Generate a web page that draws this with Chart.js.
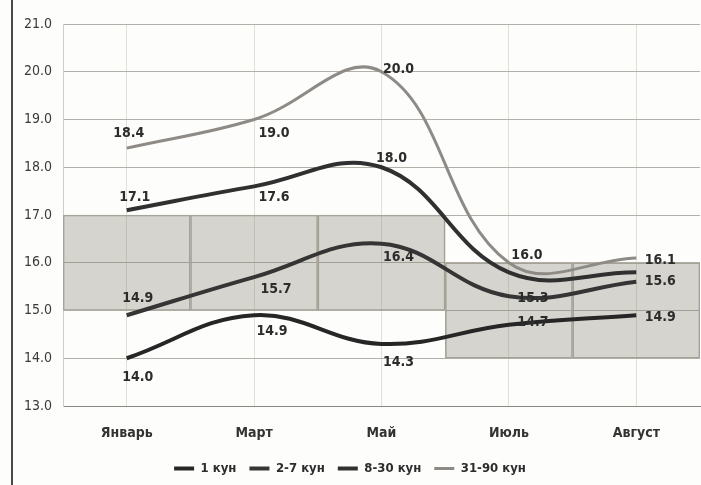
<!DOCTYPE html>
<html>
<head>
<meta charset="utf-8">
<script src="https://cdn.jsdelivr.net/npm/chart.js@4.4.1/dist/chart.umd.min.js"></script>
<style>
    html, body { margin: 0; padding: 0; background: #fdfdfc; }
    #wrap { position: relative; width: 701px; height: 485px; }
    #frame { position: absolute; left: 11px; top: 0; width: 2px; height: 485px; background: #4a4a4a; }
    canvas { position: absolute; left: 0; top: 0; }
</style>
</head>
<body>
<div id="wrap">
    <div id="frame"></div>
    <canvas id="chart" width="701" height="485"></canvas>
</div>
<script>
const MONTHS = ['Январь', 'Март', 'Май', 'Июль', 'Август'];
const SERIES_NAMES = ['1 кун', '2-7 кун', '8-30 кун', '31-90 кун'];

const DAY_1 = [14.0, 14.9, 14.3, 14.7, 14.9];
const DAYS_2_7 = [14.9, 15.7, 16.4, 15.3, 15.6];
const DAYS_8_30 = [17.1, 17.6, 18.0, 15.8, 15.8];
const DAYS_31_90 = [18.4, 19.0, 20.0, 16.0, 16.1];

// shaded band behind the lines (low / high per month)
const BAND_LOW = [15, 15, 15, 14, 14];
const BAND_HIGH = [17, 17, 17, 16, 16];

const Y_TICKS = [13, 14, 15, 16, 17, 18, 19, 20, 21];

// where each value label sits relative to its point, null = not shown
const LABEL_OFFSETS = [
    [[11, 19], [18, 16], [17, 18], [24, -2], [24, 2]],
    [[11, -17], [22, 12], [17, 14], [24, 2], [24, 0]],
    [[8, -13], [20, 11], [10, -9], null, null],
    [[2, -15], [20, 14], [17, -2], [18, -7], [24, 2]]
];

const FONT = '"Liberation Sans Narrow", "Arial Narrow", "DejaVu Sans Condensed", sans-serif';
const LINE_COLORS = ['#262626', '#353535', '#303030', '#8e8b86'];
const LINE_WIDTHS = [4, 4, 4, 3];

const valueLabels = {
    id: 'valueLabels',
    afterDatasetsDraw(chart) {
        const ctx = chart.ctx;
        ctx.save();
        ctx.font = 'bold 14px ' + FONT;
        ctx.fillStyle = '#2c2c2c';
        ctx.textAlign = 'center';
        ctx.textBaseline = 'middle';
        chart.data.datasets.forEach((ds, i) => {
            if (!ds.labelOffsets) return;
            const meta = chart.getDatasetMeta(i);
            meta.data.forEach((pt, j) => {
                const off = ds.labelOffsets[j];
                if (!off) return;
                ctx.fillText(ds.data[j].toFixed(1), pt.x + off[0], pt.y + off[1]);
            });
        });
        ctx.restore();
    }
};

const lineSets = [DAY_1, DAYS_2_7, DAYS_8_30, DAYS_31_90].map((values, i) => ({
    type: 'line',
    label: SERIES_NAMES[i],
    data: values,
    borderColor: LINE_COLORS[i],
    backgroundColor: LINE_COLORS[i],
    borderWidth: LINE_WIDTHS[i],
    pointRadius: 0,
    tension: 0.4,
    fill: false,
    order: 1,
    labelOffsets: LABEL_OFFSETS[i]
}));

const bandSet = {
    type: 'bar',
    label: 'band',
    data: BAND_LOW.map((lo, i) => [lo, BAND_HIGH[i]]),
    backgroundColor: 'rgba(125, 118, 100, 0.30)',
    borderColor: '#aba8a0',
    borderWidth: 1,
    borderSkipped: false,
    barPercentage: 1,
    categoryPercentage: 1,
    order: 10
};

new Chart(document.getElementById('chart'), {
    type: 'bar',
    data: {
        labels: MONTHS,
        datasets: [...lineSets, bandSet]
    },
    options: {
        responsive: false,
        animation: false,
        layout: { padding: { top: 24, right: 1, bottom: 0, left: 0 } },
        plugins: {
            tooltip: { enabled: false },
            legend: {
                position: 'bottom',
                labels: {
                    filter: item => item.text !== 'band',
                    usePointStyle: true,
                    pointStyle: 'line',
                    pointStyleWidth: 20,
                    padding: 13,
                    color: '#2c2c2c',
                    font: { family: FONT, size: 13, weight: 'bold' }
                }
            }
        },
        scales: {
            x: {
                offset: true,
                grid: { offset: false, color: '#e2dfd8', drawTicks: false },
                border: { color: '#8a8782' },
                ticks: {
                    padding: 19,
                    color: '#333',
                    font: { family: FONT, size: 14, weight: 'bold' }
                },
                afterFit(axis) { axis.height = 43; }
            },
            y: {
                min: 13,
                max: 21,
                afterBuildTicks(axis) { axis.ticks = Y_TICKS.map(v => ({ value: v })); },
                grid: { color: '#b3b0a9', drawTicks: false },
                border: { color: '#d0cdc6' },
                ticks: {
                    padding: 11,
                    color: '#3a3a3a',
                    font: { family: FONT, size: 14 },
                    callback: v => v.toFixed(1)
                },
                afterFit(axis) { axis.width = 63; }
            }
        }
    },
    plugins: [valueLabels]
});
</script>
</body>
</html>
